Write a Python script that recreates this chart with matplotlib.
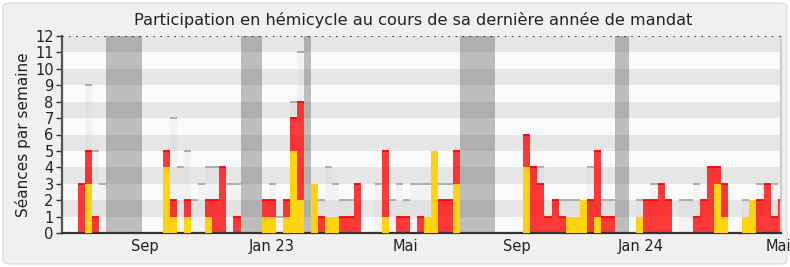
import matplotlib
matplotlib.use("Agg")
import matplotlib.pyplot as plt
from matplotlib.patches import FancyBboxPatch
import numpy as np

plt.rcParams['font.family'] = ['DejaVu Sans']

# Weekly data (102 weeks)
red = [0, 0, 3, 5, 1, 0, 0, 0, 0, 0, 0, 0, 0, 0, 5, 2, 0, 2, 0, 0,
       2, 2, 4, 0, 1, 0, 0, 0, 2, 2, 0, 2, 7, 8, 0, 3, 1, 1, 1, 1,
       1, 3, 0, 0, 0, 5, 0, 1, 1, 0, 1, 1, 5, 2, 2, 5, 0, 0, 0, 0,
       0, 0, 0, 0, 0, 6, 4, 3, 1, 2, 1, 1, 1, 2, 2, 5, 1, 1, 0, 0,
       0, 1, 2, 2, 3, 2, 0, 0, 0, 1, 2, 4, 4, 3, 0, 0, 1, 2, 2, 3,
       1, 2]
yellow = [0, 0, 0, 3, 0, 0, 0, 0, 0, 0, 0, 0, 0, 0, 4, 1, 0, 1, 0, 0,
          1, 0, 0, 0, 0, 0, 0, 0, 1, 1, 0, 1, 5, 2, 0, 3, 0, 1, 1, 0,
          0, 0, 0, 0, 0, 1, 0, 0, 0, 0, 0, 1, 5, 0, 0, 3, 0, 0, 0, 0,
          0, 0, 0, 0, 0, 4, 0, 0, 0, 0, 0, 1, 1, 2, 0, 1, 0, 0, 0, 0,
          0, 1, 0, 0, 0, 0, 0, 0, 0, 0, 0, 0, 3, 1, 0, 0, 1, 2, 0, 0,
          0, 0]
grey = [0, 0, 0, 9, 5, 3, 0, 0, 0, 0, 0, 0, 0, 0, 0, 7, 4, 5, 2, 3,
        4, 4, 0, 3, 3, 0, 0, 0, 0, 3, 1, 0, 8, 11, 0, 0, 2, 4, 3, 2,
        2, 0, 0, 0, 3, 0, 2, 3, 2, 3, 3, 3, 0, 3, 3, 0, 0, 0, 0, 0,
        0, 0, 0, 0, 0, 0, 4, 4, 0, 0, 2, 2, 2, 0, 4, 0, 2, 2, 0, 0,
        0, 2, 0, 3, 0, 0, 0, 2, 2, 3, 0, 0, 0, 0, 0, 0, 2, 0, 3, 0,
        3, 0]
# vacation weeks (start week, number of weeks)
vac_start = [6, 25, 34, 56, 78]
vac_len = [5, 3, 1, 5, 2]

tick_pos = [11.48, 29.45, 48.27, 64.12, 81.67, 101.05]
tick_labels = ["Sep", "Jan 23", "Mai", "Sep", "Jan 24", "Mai"]

W, H = 790, 267
fig = plt.figure(figsize=(W / 100, H / 100), dpi=100)
fig.patch.set_facecolor('white')
bg = FancyBboxPatch((3 / W, 3 / H), 1 - 6 / W, 1 - 6 / H,
                    boxstyle="round,pad=0,rounding_size=0.012",
                    transform=fig.transFigure, facecolor='#f0f0f0',
                    edgecolor='#e0e0e0', linewidth=1.0, zorder=-10)
fig.patches.append(bg)

ax = fig.add_axes([62 / W, 34 / H, (781 - 62) / W, (233 - 36) / H])
ax.set_facecolor('#fafafa')
ax.set_xlim(-0.26, 101.47)
ax.set_ylim(0, 12)

for k in range(12):
    if k % 2 == 1:
        ax.axhspan(k, k + 1, color='#e6e6e6', lw=0, zorder=0)

x = np.arange(len(red))
g = np.array(grey, dtype=float)
r = np.array(red, dtype=float)
yl = np.array(yellow, dtype=float)

ax.bar(x, g, width=1, align='edge', color=(203/255, 203/255, 203/255, 0.15),
       lw=0, zorder=1)
gm = g > 0
ax.hlines(g[gm], x[gm], x[gm] + 1, color='#a9a9a9', lw=1.3, zorder=1.5)

ax.bar(x, r, width=1, align='edge', color=(1, 0, 0, 0.77), lw=0, zorder=2)
rm = r > yl
ax.hlines(r[rm], x[rm], x[rm] + 1, color='#ff0000', lw=1.3, zorder=2.5)
ax.bar(x, yl, width=1, align='edge', color='#ffd30f', lw=0, zorder=3)

ax.bar(vac_start, [12] * len(vac_start), width=vac_len, align='edge',
       color=(50/255, 50/255, 50/255, 0.3), lw=0, zorder=4)

ax.axhline(12, color='black', lw=1.1, linestyle=(0, (1, 3.6)), zorder=5)

ax.set_yticks(range(13))
ax.set_yticklabels([str(v) for v in range(13)], fontsize=10.5, color='#222222')
ax.set_xticks(tick_pos)
ax.set_xticklabels(tick_labels, fontsize=10.5, color='#222222')
ax.tick_params(axis='x', length=0, pad=4)
ax.tick_params(axis='y', length=4, width=1, color='#333333', pad=2)

ax.spines['top'].set_visible(False)
ax.spines['left'].set_color('#555555')
ax.spines['left'].set_linewidth(1.6)
ax.spines['bottom'].set_color('#333333')
ax.spines['bottom'].set_linewidth(1.6)
ax.spines['right'].set_color('#cccccc')
ax.spines['right'].set_linewidth(1.6)

ax.set_ylabel("Séances par semaine", fontsize=11, color='#222222', labelpad=3)
fig.text(413 / W, 1 - 20 / H, "Participation en hémicycle au cours de sa dernière année de mandat",
         ha='center', va='center', fontsize=11.6, color='#222222')

fig.savefig("out.png", dpi=100, facecolor=fig.get_facecolor())
